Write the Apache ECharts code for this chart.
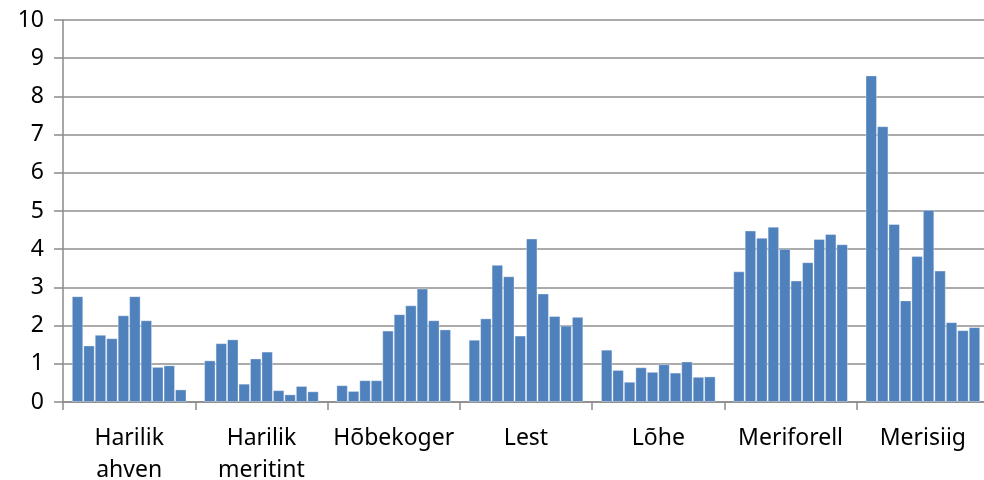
<!DOCTYPE html>
<html>
<head>
<meta charset="utf-8">
<script src="https://cdn.jsdelivr.net/npm/echarts@6/dist/echarts.min.js"></script>
<style>
  html, body { margin: 0; padding: 0; background: #fff; }
  #chart { width: 984px; height: 480px; }
</style>
</head>
<body>
<div id="chart"></div>
<script>
// kategooriad
const categories = ["Harilik\nahven", "Harilik\nmeritint", "Hõbekoger", "Lest", "Lõhe", "Meriforell", "Merisiig"];

// iga kategooria 10 tulpa
const harilikAhven   = [2.77, 1.48, 1.76, 1.67, 2.27, 2.77, 2.14, 0.92, 0.96, 0.33];
const harilikMeritint = [1.09, 1.54, 1.64, 0.48, 1.14, 1.32, 0.31, 0.20, 0.42, 0.28];
const hobekoger      = [0.44, 0.29, 0.57, 0.57, 1.87, 2.30, 2.53, 2.97, 2.14, 1.90];
const lest           = [1.63, 2.19, 3.59, 3.29, 1.74, 4.28, 2.84, 2.25, 2.00, 2.23];
const lohe           = [1.37, 0.84, 0.53, 0.91, 0.79, 0.99, 0.77, 1.06, 0.66, 0.67];
const meriforell     = [3.42, 4.49, 4.30, 4.59, 4.01, 3.18, 3.66, 4.27, 4.40, 4.13];
const merisiig       = [8.55, 7.22, 4.66, 2.66, 3.82, 5.03, 3.44, 2.09, 1.88, 1.96];

const yTicks = [0, 1, 2, 3, 4, 5, 6, 7, 8, 9, 10];

const groups = [harilikAhven, harilikMeritint, hobekoger, lest, lohe, meriforell, merisiig];

const chart = echarts.init(document.getElementById("chart"));

// seeriad: i-s tulp igast kategooriast
const series = [];
for (let i = 0; i < 10; i++) {
  series.push({
    type: "bar",
    name: "s" + (i + 1),
    data: groups.map(g => g[i]),
    barGap: "0%",
    barCategoryGap: "13.3%",
    itemStyle: {
      color: "#4F81BD",
      borderColor: "rgba(255,255,255,0.35)",
      borderWidth: 1,
    },
  });
}

const font = "'Noto Sans', sans-serif";

chart.setOption({
  animation: false,
  grid: { left: 63, right: -5, top: 20, bottom: 78, outerBoundsMode: "none" },
  xAxis: {
    type: "category",
    data: categories,
    axisLine: { lineStyle: { color: "#8a8a8a", width: 1.5 } },
    axisTick: { show: true, length: 8, lineStyle: { color: "#8a8a8a", width: 1.5 } },
    axisLabel: {
      interval: 0,
      margin: 20,
      color: "#000",
      fontFamily: font,
      fontSize: 23,
      lineHeight: 32,
    },
  },
  yAxis: {
    type: "value",
    min: yTicks[0],
    max: yTicks[yTicks.length - 1],
    interval: 1,
    axisLine: { show: true, lineStyle: { color: "#8a8a8a", width: 1.5 } },
    axisTick: { show: true, length: 9, lineStyle: { color: "#8a8a8a", width: 1.5 } },
    splitLine: { lineStyle: { color: "#8f8f8f", width: 1.5 } },
    axisLabel: {
      margin: 19,
      color: "#000",
      fontFamily: font,
      fontSize: 23,
    },
  },
  series: series,
});
</script>
</body>
</html>
